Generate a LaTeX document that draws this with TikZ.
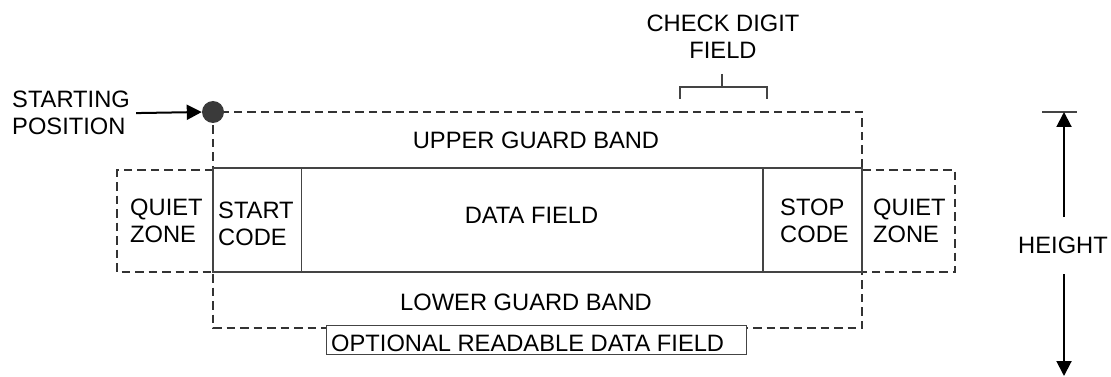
\documentclass[tikz,border=0pt]{standalone}
\usepackage{fontspec}
\setmainfont{Liberation Sans}
\usetikzlibrary{arrows.meta}
\definecolor{linec}{HTML}{333333}
\definecolor{boxc}{HTML}{444444}
\definecolor{dotc}{HTML}{3A3A3A}
\begin{document}
\begin{tikzpicture}[x=1pt,y=-1pt,
  lbl/.style={inner sep=0pt, font=\fontsize{23.7pt}{27pt}\selectfont, align=left, text=black},
  clbl/.style={lbl, align=center},
  dashline/.style={draw=linec, line width=1.7pt, dash pattern=on 8.5pt off 5pt},
  solidline/.style={draw=boxc, line width=1.6pt},
  thinline/.style={draw=boxc, line width=1.4pt},
  arrowline/.style={draw=black, line width=2pt, -{Triangle[length=15pt,width=15pt]}}
]
\useasboundingbox (0,0) rectangle (1111,377);

% outer dashed guard-band outline
\draw[dashline] (213,112) rectangle (862,328);
% quiet zones
\draw[dashline] (213,170) -- (117,170) -- (117,272) -- (213,272);
\draw[dashline] (862,170) -- (955,170) -- (955,272) -- (862,272);
% main symbol area
\draw[solidline, fill=white] (213,168) rectangle (862,272);
\draw[solidline] (301.5,168) -- (301.5,272);
\draw[solidline] (763,168) -- (763,272);

% starting position
\node[circle, fill=dotc, minimum size=22pt, inner sep=0pt] (dot) at (213,112) {};
\node[lbl, anchor=north west] (sp) at (12,91) {STARTING\\POSITION};
\draw[arrowline] ([xshift=6pt]sp.east) -- (dot.west);

% check digit field
\node[clbl, anchor=north] (cdf) at (723,15) {CHECK DIGIT\\FIELD};
\coordinate (cdstem) at (722,74);
\draw[thinline] (cdstem) -- (722,87);
\draw[thinline] (680,99) -- (680,87) -- (767,87) -- (767,99);

% labels
\node[lbl, anchor=north] (ugb) at (536,132) {UPPER GUARD BAND};
\node[lbl, anchor=north west] (qzl) at (130,199) {QUIET\\ZONE};
\node[lbl, anchor=north west] (stc) at (218,202) {START\\CODE};
\node[lbl, anchor=north] (df) at (531.5,207) {DATA FIELD};
\node[lbl, anchor=north west] (spc) at (780,199) {STOP\\CODE};
\node[lbl, anchor=north west] (qzr) at (873,199) {QUIET\\ZONE};
\node[lbl, anchor=north] (lgb) at (526,294) {LOWER GUARD BAND};

% optional readable data field
\node[draw=boxc, line width=1.2pt, fill=white, minimum width=420pt, minimum height=29pt, inner sep=0pt, anchor=north west] (optbox) at (326,325) {};
\node[lbl, anchor=north west] (opt) at (331,335) {OPTIONAL READABLE DATA FIELD};

% height dimension
\coordinate (htop) at (1064,112);
\coordinate (hbot) at (1064,376);
\draw[thinline] (1042,112) -- (1077,112);
\node[lbl, inner ysep=20pt, anchor=north] (ht) at (1063,217) {HEIGHT};
\draw[arrowline] (ht.north -| htop) -- (htop);
\draw[arrowline] (ht.south -| hbot) -- (hbot);
\end{tikzpicture}
\end{document}
